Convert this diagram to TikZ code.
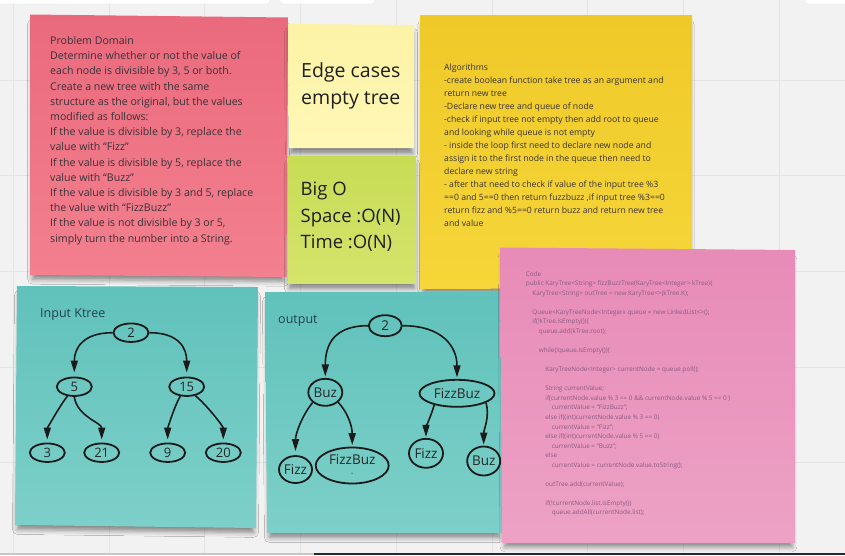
\documentclass[tikz,border=0pt]{standalone}
\usepackage{fontspec}
\setmainfont{Open Sans}
\usetikzlibrary{arrows.meta,shapes.geometric,shadows.blur}
\definecolor{bgc}{HTML}{F2F2F2}
\definecolor{gridc}{HTML}{E3E3E3}
\definecolor{barc}{HTML}{1F2C38}
\definecolor{redA}{HTML}{EA6A7D}
\definecolor{redB}{HTML}{F3808F}
\definecolor{lyA}{HTML}{FCF3A6}
\definecolor{lyB}{HTML}{FFF7B6}
\definecolor{limeA}{HTML}{C8DC55}
\definecolor{limeB}{HTML}{D4E46C}
\definecolor{yelA}{HTML}{EFC928}
\definecolor{yelB}{HTML}{F6D63A}
\definecolor{pinkA}{HTML}{E78BB7}
\definecolor{pinkB}{HTML}{EDA2C5}
\definecolor{tealA}{HTML}{60C2BB}
\definecolor{tealB}{HTML}{7DD0C9}
\definecolor{txtdark}{HTML}{383236}
\definecolor{codec}{HTML}{8C5A82}
\definecolor{lblc}{HTML}{23404C}
\definecolor{inkc}{HTML}{1A1A1A}
\newcommand\cind[1]{\hspace*{#1pt}}
\newcommand\fstrut[1]{\rule{0pt}{#1pt}}
\tikzset{
  note/.style={blur shadow={shadow xshift=0pt,shadow yshift=-7pt,shadow blur radius=5pt,shadow opacity=45,shadow scale=0.98}},
  ptext/.style={anchor=north west,inner sep=0pt,align=left},
  ltext/.style={anchor=base west,inner sep=0pt},
  tnode/.style={ellipse,draw=inkc,line width=1.8pt,inner sep=0pt,text=black!85},
  inode/.style={tnode,minimum width=35pt,minimum height=18.5pt,font=\fontsize{13}{14}\selectfont},
  onode/.style={tnode,font=\fontsize{13.5}{15}\selectfont},
  tedge/.style={line width=1.6pt,draw=inkc,-{Triangle[length=12pt,width=7pt]}}
}
\begin{document}
\begin{tikzpicture}[x=1pt,y=-1pt]
\useasboundingbox (0,0) rectangle (845,555);
\fill[bgc] (0,0) rectangle (845,555);
% grid
\foreach \gx in {13.5,109.2,204.9,300.6,396.3,492,587.7,683.4,779.1}
  \draw[gridc,line width=1pt] (\gx,0) -- (\gx,555);
\foreach \gy in {80,175.7,271.4,367.1,462.8}
  \draw[gridc,line width=1pt] (0,\gy) -- (845,\gy);
% top tabs
\filldraw[fill=white,draw=gridc,rounded corners=3pt] (-5,-6) rectangle (270,4);
\filldraw[fill=white,draw=gridc,rounded corners=3pt] (280,-6) rectangle (375,4);
\filldraw[fill=white,draw=gridc,rounded corners=3pt] (805,-6) rectangle (850,4);
% bottom bar
\fill[black!22] (0,552.5) rectangle (314,555);
\fill[barc] (314,552.5) rectangle (845,555);

% notes
\path[note,top color=redA,bottom color=redB] (30,14.5) -- (288,17.5) -- (286.5,277) -- (30,275) -- cycle;
\path[note,top color=lyA,bottom color=lyB] (288,24) -- (414,25) -- (414,148) -- (289,148) -- cycle;
\path[note,top color=limeA,bottom color=limeB] (288,156) -- (416,156) -- (416,283) -- (288,283) -- cycle;
\path[note,top color=yelA,bottom color=yelB] (420,15) -- (692,15) -- (692,288) -- (420,289) -- cycle;
\path[note,top color=tealA,bottom color=tealB] (17,286) -- (258,287) -- (256,528) -- (15,525) -- cycle;
\path[note,top color=tealA,bottom color=tealB] (265,292) -- (502,292) -- (502,533) -- (267,533) -- cycle;

% problem domain
\node[ptext,font=\fontsize{10.6}{15.2}\selectfont,text=txtdark] (pd) at (50,33.3) {\fstrut{11}Problem Domain\\
Determine whether or not the value of\\
each node is divisible by 3, 5 or both.\\
Create a new tree with the same\\
structure as the original, but the values\\
modified as follows:\\
If the value is divisible by 3, replace the\\
value with “Fizz”\\
If the value is divisible by 5, replace the\\
value with “Buzz”\\
If the value is divisible by 3 and 5, replace\\
the value with “FizzBuzz”\\
If the value is not divisible by 3 or 5,\\
simply turn the number into a String.};

% edge cases
\node[ptext,font=\fontsize{19.5}{26.7}\selectfont,text=black!88] (ec) at (301,57.3) {\fstrut{20}Edge cases\\ empty tree};
% big O
\node[ptext,font=\fontsize{18.5}{26.4}\selectfont,text=black!88] (bo) at (300.5,176.5) {\fstrut{19}Big O\\ Space :O(N)\\ Time :O(N)};
% algorithms
\node[ptext,font=\fontsize{8.65}{13}\selectfont,text=txtdark] (al) at (444,61) {\fstrut{9}Algorithms\\
-create boolean function take tree as an argument and\\
return new tree\\
-Declare new tree and queue of node\\
-check if input tree not empty then add root to queue\\
and looking while queue is not empty\\
- inside the loop first need to declare new node and\\
assign it to the first node in the queue then need to\\
declare new string\\
- after that need to check if value of the input tree \%3\\
==0 and 5==0 then return fuzzbuzz ,if input tree \%3==0\\
return fizz and \%5==0 return buzz and return new tree\\
and value};

% input tree
\node[ltext,font=\fontsize{12.5}{14}\selectfont,text=lblc] (inl) at (40,317.5) {Input Ktree};
\node[inode] (a2) at (131,332.7) {2};
\node[inode] (a5) at (74.3,386.7) {5};
\node[inode] (a15) at (186.7,386.7) {15};
\node[inode] (a3) at (47.3,452.7) {3};
\node[inode] (a21) at (101.7,452.7) {21};
\node[inode] (a9) at (167.7,452.7) {9};
\node[inode] (a20) at (223.3,452.7) {20};
\draw[tedge,shorten >=4pt] (a2.west) .. controls +(-30,0) and +(0,-28) .. (a5.north);
\draw[tedge,shorten >=4pt] (a2.east) .. controls +(30,0) and +(0,-28) .. (a15.north);
\draw[tedge,shorten >=3pt] (a5.-126) .. controls +(-8,10) and +(0,-14) .. (a3.north);
\draw[tedge,shorten >=3pt] (a5.south) .. controls +(3,20) and +(0,-20) .. (a21.north);
\draw[tedge,shorten >=3pt] (a15.-124) .. controls +(-6,10) and +(0,-14) .. (a9.north);
\draw[tedge,shorten >=3pt] (a15.-46) .. controls +(12,10) and +(0,-16) .. (a20.north);

% output tree
\node[ltext,font=\fontsize{12.5}{14}\selectfont,text=lblc] (oul) at (278,323.5) {output};
\node[onode,minimum width=33pt,minimum height=21pt] (o2) at (385.3,325.7) {2};
\node[onode,minimum width=34pt,minimum height=27pt] (ob) at (325.3,392.3) {Buz};
\node[onode,minimum width=75pt,minimum height=27pt] (ofb) at (457,393.3) {FizzBuz};
\node[onode,minimum width=33pt,minimum height=27pt] (of) at (295.5,469.5) {Fizz};
\node[onode,minimum width=73pt,minimum height=36pt,align=center] (ofb2) at (352.2,465.5) {FizzBuz\\[-4pt]{\fontsize{7}{7}\selectfont -}};
\node[onode,minimum width=34pt,minimum height=29pt] (of2) at (426,453.3) {Fizz};
\node[onode,minimum width=32pt,minimum height=29pt] (ob2) at (483.7,461) {Buz};
\draw[tedge,shorten >=1.5pt] (o2.west) .. controls +(-35,0) and +(0,-32) .. (ob.north);
\draw[tedge,shorten >=1.5pt] (o2.east) .. controls +(40,0) and +(0,-32) .. (ofb.north);
\draw[tedge,shorten >=4pt] (ob.-141) .. controls +(-10,12) and +(0,-22) .. (of.north);
\draw[tedge,shorten >=1.5pt] (ob.-38) .. controls +(8,8) and +(0,-22) .. (ofb2.north);
\draw[tedge,shorten >=1pt] (ofb.-153) .. controls +(-3,10) and +(0,-10) .. (of2.north);
\draw[tedge,shorten >=1pt] (ofb.-18) .. controls +(4,14) and +(0,-16) .. (ob2.north);

% code note
\path[note,top color=pinkA,bottom color=pinkB] (500,247.5) -- (795,250) -- (795,543) -- (502,543) -- cycle;
\node[ptext,font=\fontsize{6.35}{9.55}\selectfont,text=codec] (code) at (525.7,269) {\fstrut{7}Code\\
public KaryTree<String> fizzBuzzTree(KaryTree<Integer> kTree)\{\\
\cind{6.5}KaryTree<String> outTree = new KaryTree<>(kTree.K);\\[9.55pt]
\cind{6.5}Queue<KaryTreeNode<Integer>> queue = new LinkedList<>();\\
\cind{6.5}if(!kTree.isEmpty())\{\\
\cind{13}queue.add(kTree.root);\\[9.55pt]
\cind{13}while(!queue.isEmpty())\{\\[9.55pt]
\cind{19.5}KaryTreeNode<Integer> currentNode = queue.poll();\\[9.55pt]
\cind{19.5}String currentValue;\\
\cind{19.5}if(currentNode.value \% 3 == 0 \&\& currentNode.value \% 5 == 0 )\\
\cind{26}currentValue = “FizzBuzz”;\\
\cind{19.5}else if((int)currentNode.value \% 3 == 0)\\
\cind{26}currentValue = “Fizz”;\\
\cind{19.5}else if((int)currentNode.value \% 5 == 0)\\
\cind{26}currentValue = “Buzz”;\\
\cind{19.5}else\\
\cind{26}currentValue = currentNode.value.toString();\\[9.55pt]
\cind{19.5}outTree.add(currentValue);\\[9.55pt]
\cind{19.5}if(!currentNode.list.isEmpty())\\
\cind{26}queue.addAll(currentNode.list);};
\end{tikzpicture}
\end{document}
